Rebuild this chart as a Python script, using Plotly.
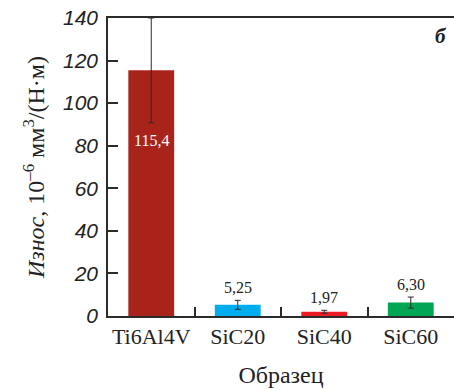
import plotly.graph_objects as go

categories = ["Ti6Al4V", "SiC20", "SiC40", "SiC60"]
values = [115.4, 5.25, 1.97, 6.30]
errors = [24.6, 2.1, 0.7, 2.6]
labels = ["115,4", "5,25", "1,97", "6,30"]
colors = ["#A8231A", "#00AEEF", "#ED1C24", "#00A651"]
y_ticks = [0, 20, 40, 60, 80, 100, 120, 140]

SERIF = "Liberation Serif, Times New Roman, serif"
SANS = "Liberation Sans, Arial, sans-serif"
AX = "#2b2b2b"

fig = go.Figure()
fig.add_trace(go.Bar(
    x=categories, y=values, width=0.53,
    marker=dict(color=colors, line=dict(width=0)),
    error_y=dict(type="data", array=errors, visible=True,
                 color=AX, thickness=1, width=3),
    showlegend=False,
))

annotations = []
for i, (c, v, e, t) in enumerate(zip(categories, values, errors, labels)):
    if i == 0:
        annotations.append(dict(x=c, y=v - e, text=t, showarrow=False,
                                yanchor="top", yshift=-7,
                                font=dict(family=SERIF, size=16, color="white")))
    else:
        annotations.append(dict(x=c, y=v + e, text=t, showarrow=False,
                                yanchor="bottom", yshift=2,
                                font=dict(family=SERIF, size=16, color="#222")))
annotations.append(dict(xref="paper", yref="paper", x=0.985, y=0.94,
                        text="<b><i>б</i></b>", showarrow=False,
                        xanchor="right", yanchor="middle",
                        font=dict(family=SERIF, size=21, color="#222")))

fig.update_layout(
    width=454, height=390,
    margin=dict(l=108, r=0, t=18, b=74),
    plot_bgcolor="white", paper_bgcolor="white",
    annotations=annotations,
    bargap=0.47,
)
fig.update_xaxes(
    type="category", range=[-0.5, 3.5], tickangle=0, automargin=False,
    showline=True, linecolor=AX, linewidth=1.5, mirror=True,
    ticks="inside", tickson="boundaries", ticklen=9, tickcolor=AX, tickwidth=1.5,
    tickfont=dict(family=SERIF, size=22, color="#222"),
    title=dict(text="Образец", font=dict(family=SERIF, size=24, color="#222"), standoff=18),
    showgrid=False, zeroline=False,
)
fig.update_yaxes(
    range=[0, 140], tickvals=y_ticks, automargin=False,
    showline=True, linecolor=AX, linewidth=1.5,
    ticks="inside", ticklen=10, tickcolor=AX, tickwidth=1.5,
    tickfont=dict(family=SANS, size=21, color="#222", style="italic"),
    ticklabelstandoff=4,
    title=dict(text="<i>Износ</i>, 10<sup>–6</sup> мм<sup>3</sup>/(Н·м)",
               font=dict(family=SERIF, size=24, color="#222"), standoff=12),
    showgrid=False, zeroline=False,
)

fig.write_html("out.html")
